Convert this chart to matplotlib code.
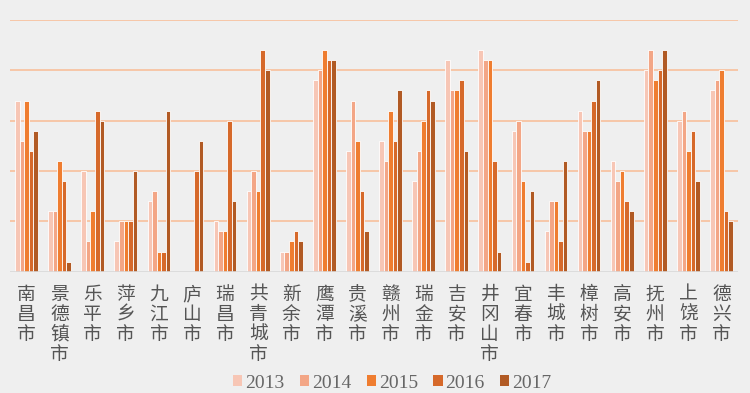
import matplotlib
matplotlib.use('Agg')
import matplotlib.pyplot as plt
import matplotlib.transforms as mtransforms
from matplotlib.patches import Patch
import numpy as np

cities = ['南昌市', '景德镇市', '乐平市', '萍乡市', '九江市', '庐山市', '瑞昌市',
          '共青城市', '新余市', '鹰潭市', '贵溪市', '赣州市', '瑞金市', '吉安市',
          '井冈山市', '宜春市', '丰城市', '樟树市', '高安市', '抚州市', '上饶市', '德兴市']
years = ['2013', '2014', '2015', '2016', '2017']

v2013 = [17, 6, 10, 3, 7, 0, 5, 8, 2, 19, 12, 13, 9, 21, 22, 14, 4, 16, 11, 20, 15, 18]
v2014 = [13, 6, 3, 5, 8, 0, 4, 10, 2, 20, 17, 11, 12, 18, 21, 15, 7, 14, 9, 22, 16, 19]
v2015 = [17, 11, 6, 5, 2, 0, 4, 8, 3, 22, 13, 16, 15, 18, 21, 9, 7, 14, 10, 19, 12, 20]
v2016 = [12, 9, 16, 5, 2, 10, 15, 22, 4, 21, 8, 13, 18, 19, 11, 1, 3, 17, 7, 20, 14, 6]
v2017 = [14, 1, 15, 10, 16, 13, 7, 20, 3, 21, 4, 18, 17, 12, 2, 8, 11, 19, 6, 22, 9, 5]

colors = ['#f7c6b5', '#f3a686', '#ef7d30', '#d6692a', '#b15a24']

plt.rcParams['font.family'] = ['Noto Sans CJK SC', 'DejaVu Sans']

fig = plt.figure(figsize=(7.5, 3.93), dpi=100)
fig.patch.set_facecolor('#efefef')
ax = fig.add_axes([10 / 750, 1 - 271.7 / 393, 728 / 750, 251.7 / 393])
ax.set_facecolor('#efefef')

n = len(cities)
x = np.arange(n)
w = 0.137
series = [v2013, v2014, v2015, v2016, v2017]
for k, vals in enumerate(series):
    ax.bar(x + (k - 2) * w, vals, width=w, color=colors[k],
           edgecolor='white', linewidth=0.6, zorder=3)

ax.set_xlim(-0.5, n - 0.5)
ax.set_ylim(0, 25)
for gy in range(5, 26, 5):
    ax.axhline(gy, color='#f8bf9c', linewidth=1.2, zorder=1)
ax.axhline(0, color='#d9d9d9', linewidth=1.2, zorder=4)
for s in ax.spines.values():
    s.set_visible(False)
ax.set_xticks([])
ax.set_yticks([])

# 竖排城市名
trans = mtransforms.blended_transform_factory(ax.transData, fig.transFigure)
for i, c in enumerate(cities):
    ax.text(i, 1 - 284 / 393, '\n'.join(c), transform=trans, ha='center', va='top',
            fontsize=13.5, color='#555555', linespacing=0.93)

handles = [Patch(facecolor=colors[k], edgecolor='none') for k in range(5)]
leg = fig.legend(handles, years, loc='center', bbox_to_anchor=(0.523, 1 - 383 / 393),
                 ncol=5, frameon=False, handlelength=0.47, handleheight=0.47,
                 handletextpad=0.15, columnspacing=0.8, borderpad=0,
                 prop={'family': 'Liberation Serif', 'size': 14})
for t in leg.get_texts():
    t.set_color('#666666')

fig.savefig('out.png', dpi=100, facecolor=fig.get_facecolor())
